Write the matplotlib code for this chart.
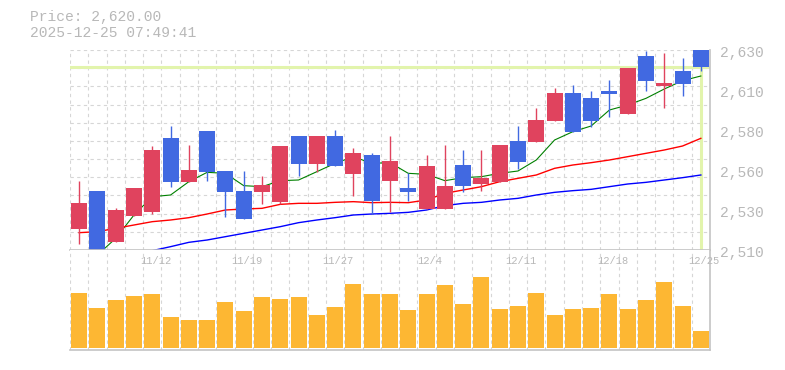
import numpy as np
import matplotlib
matplotlib.use("Agg")
import matplotlib.pyplot as plt
import matplotlib.transforms as mtransforms

# daily OHLC (35 trading days, 11/6 .. 12/25)
opens = [2522.6, 2545.4, 2515.0, 2530.6, 2532.8, 2577.2, 2551.0, 2581.4, 2557.4, 2545.4,
         2545.0, 2539.0, 2578.4, 2561.8, 2578.4, 2555.6, 2567.0, 2551.6, 2547.2, 2534.6,
         2534.6, 2561.0, 2549.6, 2551.0, 2575.4, 2575.0, 2587.6, 2604.2, 2601.2, 2605.4,
         2591.8, 2626.4, 2608.6, 2617.4, 2631.0]
closes = [2538.0, 2508.0, 2534.0, 2547.4, 2570.0, 2551.0, 2558.0, 2556.8, 2545.0, 2528.8,
          2549.0, 2572.4, 2561.8, 2578.4, 2560.6, 2568.2, 2539.6, 2563.4, 2545.0, 2560.4,
          2548.4, 2548.6, 2553.4, 2573.0, 2563.0, 2588.0, 2604.2, 2581.0, 2587.6, 2603.8,
          2619.2, 2611.6, 2610.4, 2609.8, 2620.0]
highs = [2551.4, 2545.4, 2535.4, 2547.4, 2572.4, 2584.4, 2573.0, 2581.4, 2557.4, 2557.4,
         2554.4, 2572.4, 2578.4, 2578.4, 2582.0, 2571.4, 2568.0, 2578.4, 2556.0, 2567.0,
         2573.0, 2570.0, 2570.0, 2573.0, 2584.4, 2595.0, 2607.0, 2609.0, 2605.4, 2612.0,
         2619.2, 2629.6, 2628.4, 2625.4, 2631.0]
lows = [2513.6, 2508.0, 2515.0, 2530.6, 2531.8, 2548.0, 2551.0, 2551.6, 2530.0, 2528.8,
        2537.6, 2537.6, 2554.4, 2557.0, 2560.6, 2542.6, 2531.6, 2533.0, 2539.6, 2534.6,
        2534.6, 2545.0, 2545.6, 2551.0, 2558.6, 2575.0, 2587.6, 2581.0, 2584.0, 2590.0,
        2591.8, 2605.6, 2595.0, 2602.4, 2617.6]
volume = [167, 121, 145, 157, 163, 94, 85, 85, 139, 112,
          154, 148, 154, 100, 124, 193, 163, 163, 115, 163,
          190, 133, 214, 118, 127, 166, 100, 118, 121, 163,
          118, 145, 199, 127, 52]

nan = np.nan
ma_short = [nan, 2507.0, 2517.0, 2531.0, 2542.0, 2543.0, 2551.0, 2556.6, 2556.0, 2548.6,
            2548.0, 2551.6, 2552.0, 2557.0, 2562.0, 2566.0, 2562.0, 2562.4, 2556.0, 2555.4,
            2551.6, 2553.4, 2554.0, 2556.0, 2557.4, 2564.0, 2576.0, 2581.0, 2584.4, 2594.0,
            2597.0, 2601.0, 2606.6, 2611.6, 2614.4]
ma_mid = [2520.4, 2521.0, 2523.0, 2525.0, 2527.0, 2528.0, 2529.4, 2531.6, 2534.0, 2534.6,
          2535.0, 2537.4, 2538.0, 2538.0, 2538.6, 2539.0, 2538.4, 2538.6, 2538.4, 2540.0,
          2544.0, 2546.0, 2548.0, 2551.0, 2553.0, 2555.0, 2559.0, 2561.0, 2562.4, 2564.0,
          2566.0, 2568.0, 2570.0, 2572.4, 2577.0]
ma_long = [nan, nan, nan, nan, 2509.6, 2512.0, 2514.6, 2516.0, 2518.0, 2520.0,
           2522.0, 2524.0, 2526.4, 2528.0, 2529.4, 2531.0, 2531.6, 2532.0, 2532.6, 2534.0,
           2536.6, 2538.0, 2538.6, 2540.0, 2541.0, 2543.0, 2544.6, 2545.6, 2546.4, 2548.0,
           2549.6, 2550.6, 2552.0, 2553.4, 2555.0]

date_pos = [4, 9, 14, 19, 24, 29, 34]
date_labels = ["11/12", "11/19", "11/27", "12/4", "12/11", "12/18", "12/25"]

last_price = 2620.0
header = ["Price: 2,620.00", "2025-12-25 07:49:41"]

UP = "#e0435e"
DOWN = "#4169e1"
GRID = "#d6d6d6"
EDGE = "#c4c4c4"
TXT = "#b8b8b8"
CUR = "#e2f4ac"
mono = "Liberation Mono"

fig = plt.figure(figsize=(7.85, 3.70), dpi=100)
ax = fig.add_axes([70 / 785, 120 / 370, 640 / 785, 200 / 370])
axv = fig.add_axes([70 / 785, 20 / 370, 640 / 785, 100 / 370])

n = len(opens)
x = np.arange(n)
ymin, ymax = 2510, 2630

# grid
for gy in np.linspace(ymin, ymax, 12):
    ax.axhline(gy, color=GRID, lw=0.8, ls=(0, (3, 3)), zorder=0)
for gx in np.arange(-0.5, n, 1):
    ax.axvline(gx, color=GRID, lw=0.8, ls=(0, (3, 3)), zorder=0)
    axv.axvline(gx, color=GRID, lw=0.8, ls=(0, (3, 3)), zorder=0)

# current price marker
ax.axhline(last_price, color=CUR, lw=2.2, zorder=1)
ax.vlines(x[-1], ymin, last_price, color=CUR, lw=2.2, zorder=1)

# moving averages
ax.plot(x, ma_short, color="green", lw=0.8, zorder=2, clip_on=False)
ax.plot(x, ma_mid, color="red", lw=1.0, zorder=2)
ax.plot(x, ma_long, color="blue", lw=1.0, zorder=2)

# candles
colors = [UP if c >= o else DOWN for o, c in zip(opens, closes)]
ax.vlines(x, lows, highs, color=colors, lw=1.0, zorder=3)
body_lo = np.minimum(opens, closes)
body_h = np.maximum(np.abs(np.array(closes) - np.array(opens)), 0.8)
ax.bar(x, body_h, bottom=body_lo, width=0.88, color=colors, zorder=4)

ax.set_xlim(-0.5, n - 0.5)
ax.set_ylim(ymin, ymax)
ax.set_xticks([])
ax.set_yticks([])

# price labels on the right (rounded to 10)
ticks = np.linspace(ymin, ymax, 6)
ytrans = mtransforms.blended_transform_factory(ax.transAxes, ax.transData)
ytrans = mtransforms.offset_copy(ytrans, fig=fig, x=10, y=-3, units="dots")
for t in ticks:
    ax.text(1.0, t, f"{round(t, -1):,.0f}", transform=ytrans, ha="left", va="center",
            family=mono, fontsize=10.5, color=TXT, clip_on=False)

for s in ["left", "top"]:
    ax.spines[s].set_visible(False)
for s in ["right", "bottom"]:
    ax.spines[s].set_color(EDGE)
    ax.spines[s].set_linewidth(1.2)
ax.spines["bottom"].set_zorder(5)

# volume
axv.bar(x, volume, width=0.88, color="#fdb733", zorder=2)
axv.set_xlim(-0.5, n - 0.5)
axv.set_ylim(-5, 295)
axv.set_xticks([])
axv.set_yticks([])
for s in ["left", "top"]:
    axv.spines[s].set_visible(False)
for s in ["right", "bottom"]:
    axv.spines[s].set_color(EDGE)
    axv.spines[s].set_linewidth(1.2)

# date labels just under the price panel
trans = mtransforms.blended_transform_factory(axv.transData, axv.transAxes)
for p, lab in zip(date_pos, date_labels):
    axv.text(p + 0.17, 0.885, lab, transform=trans, ha="center", va="center",
             family=mono, fontsize=7.5, color=TXT, zorder=5)

fig.text(30 / 785, 1 - 17 / 370, header[0], family=mono, fontsize=10.5, color=TXT, va="center")
fig.text(30 / 785, 1 - 33 / 370, header[1], family=mono, fontsize=10.5, color=TXT, va="center")

fig.savefig("out.png", dpi=100)
